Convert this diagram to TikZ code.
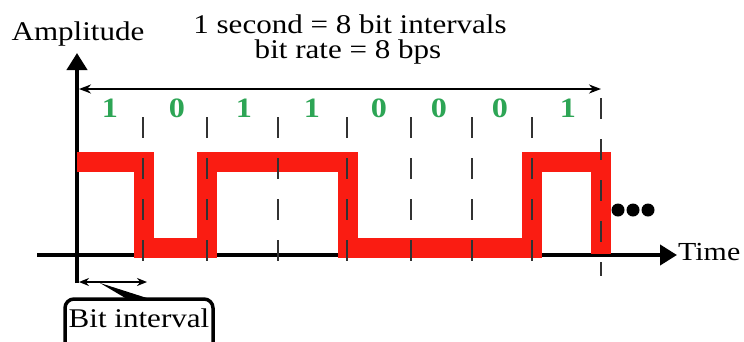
\documentclass[tikz,border=0pt]{standalone}
\usepackage{fontspec}
\setmainfont{Liberation Serif}[FakeStretch=1.15]
\usetikzlibrary{arrows.meta}
\definecolor{sigred}{RGB}{250,28,18}
\definecolor{bitgreen}{RGB}{45,165,85}
\definecolor{tickgray}{RGB}{50,50,50}
\begin{document}
\begin{tikzpicture}[x=1pt,y=-1pt,
  axis/.style={line width=4pt,-{Triangle[length=17pt,width=20pt]}},
  span/.style={line width=2pt,{Stealth[length=12pt,width=9pt]}-{Stealth[length=12pt,width=9pt]}},
  shortspan/.style={line width=2pt,{Stealth[length=10pt,width=8pt]}-{Stealth[length=10pt,width=8pt]}},
  signal/.style={draw=sigred,line width=20pt,miter limit=10},
  boundary/.style={draw=tickgray,line width=2pt,dash pattern=on 21pt off 20pt},
  label/.style={inner sep=0pt,anchor=base,font=\fontsize{27}{30}\selectfont},
  bit/.style={inner sep=0pt,anchor=base,text=bitgreen,font=\fontsize{28}{30}\selectfont\bfseries},
  dot/.style={fill=black}]
\useasboundingbox (0,0) rectangle (744,341);
\clip (0,0) rectangle (744,341);

% axes
\coordinate (tleft) at (37,255);
\coordinate (tright) at (677,255);
\coordinate (abot) at (77,283);
\coordinate (atop) at (77,53);
\draw[axis] (tleft) -- (tright);
\draw[axis] (abot) -- (atop);

% NRZ signal for 1 0 1 1 0 0 0 1
\draw[signal] (77,162) -- (144,162) -- (144,248) -- (207,248) -- (207,162)
  -- (348,162) -- (348,248) -- (532,248) -- (532,162) -- (601,162) -- (601,254);

% bit boundaries
\foreach \x/\n in {143/b1,207/b2,278/b3,347/b4,411/b5,472/b6,532/b7} {
  \coordinate (\n top) at (\x,117);
  \coordinate (\n bot) at (\x,263);
  \draw[boundary] (\n top) -- (\n bot);
}
\coordinate (b8top) at (601,98);
\coordinate (b8bot) at (601,276);
\draw[boundary] (b8top) -- (b8bot);

% one-second span
\coordinate (sl) at (79,89);
\coordinate (sr) at (601,89);
\draw[span] (sl) -- (sr);

% bit values
\foreach \x/\v in {110/1,177/0,244/1,312/1,379/0,439/0,500/0,568/1}
  \node[bit] (v\x) at (\x,117) {\v};

% continuation dots
\fill[dot] (618,210) circle (6.5);
\fill[dot] (633,210) circle (6.5);
\fill[dot] (648,210) circle (6.5);

% labels
\node[label] (amp) at (78,40) {Amplitude};
\node[label] (title1) at (350,33) {1 second = 8 bit intervals};
\node[label] (title2) at (348,58) {bit rate = 8 bps};
\node[label,anchor=base west,font=\fontsize{26}{30}\selectfont] (time) at (678,260) {Time};

% bit interval callout
\coordinate (il) at (79,282);
\coordinate (ir) at (147,282);
\draw[shortspan] (il) -- (ir);
\coordinate (ptr) at (100,283);
\fill (ptr) -- (127,299) -- (150,299) -- cycle;
\draw[line width=3.5pt,rounded corners=9pt] (65,370) -- (65,299) -- (213,299) -- (213,370);
\node[label] (bi) at (139,327) {Bit interval};
\end{tikzpicture}
\end{document}
